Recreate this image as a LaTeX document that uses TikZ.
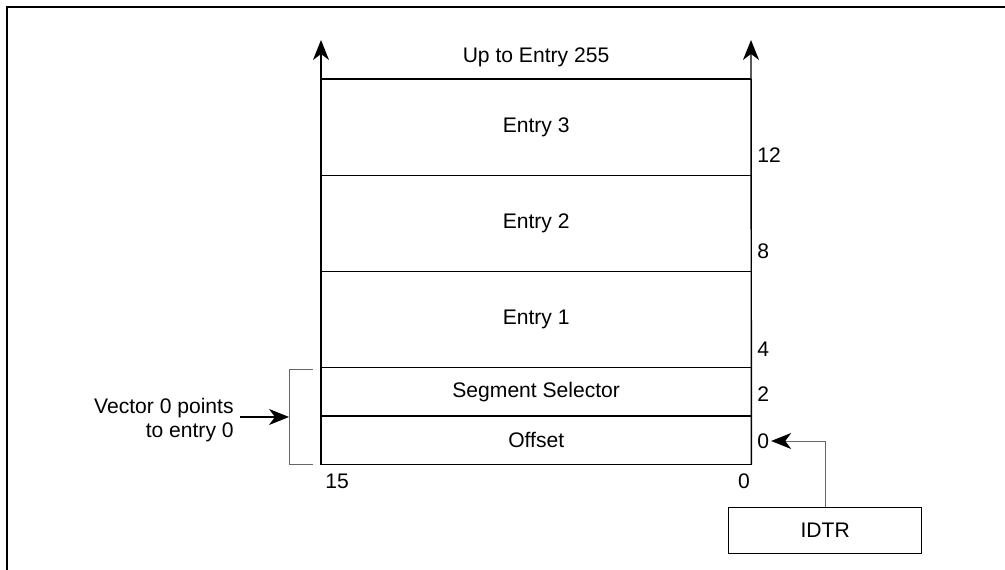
\documentclass[tikz,border=0pt]{standalone}
\usepackage{fontspec}
\setmainfont{Liberation Sans}
\usetikzlibrary{arrows.meta,positioning}
\tikzset{
  row/.style={draw,line width=0.3pt,minimum width=8.6cm,inner sep=0pt,font=\fontsize{12}{14}\selectfont},
  lbl/.style={inner sep=0pt,font=\fontsize{12}{14}\selectfont},
  tip/.style={-{Stealth[length=4mm,width=3.2mm,inset=1.2mm,black]}},
  thin gray/.style={draw=black!60,line width=0.4pt}
}

\begin{document}
\begin{tikzpicture}[x=0.02cm,y=-0.02cm]
\useasboundingbox (0,0) rectangle (1005,570);
\draw[line width=0.8pt] (7,7) rectangle (1012,578);

% the table of descriptors
\node[row,minimum height=0.96cm,anchor=north west] (off) at (321,416) {Offset};
\node[row,minimum height=0.96cm,anchor=south] (sel) at (off.north) {Segment Selector};
\node[row,minimum height=1.91cm,anchor=south] (e1) at (sel.north) {Entry 1};
\node[row,minimum height=1.91cm,anchor=south] (e2) at (e1.north) {Entry 2};
\node[row,minimum height=1.92cm,anchor=south] (e3) at (e2.north) {Entry 3};
\coordinate (ltop) at (321,40);
\coordinate (rtop) at (751,40);
\draw[line width=0.8pt,tip] (off.south west) -- (ltop);
\draw[line width=0.8pt,tip] (off.south east) -- (rtop);
\draw[line width=0.8pt] (off.south west) -- (off.south east);
\draw[line width=0.6pt] (e3.north west) -- (e3.north east);
\node[lbl] (more) at (536,57) {Up to Entry 255};

% byte offsets
\node[lbl,anchor=west] (o12) at (757,155) {12};
\node[lbl,anchor=west] (o8) at (757,251) {8};
\node[lbl,anchor=west] (o4) at (757,349) {4};
\node[lbl,anchor=west] (o2) at (757,394) {2};
\node[lbl,anchor=west] (o0) at (757,441) {0};
\node[lbl] (b15) at (337,481) {15};
\node[lbl] (b0) at (744,481) {0};

% vector 0
\coordinate (bt) at (313,369);
\coordinate (bb) at (313,464);
\coordinate (bl) at (289,369);
\coordinate (ba) at (289,417);
\draw[thin gray] (bt) -- (bl) -- (289,464) -- (bb);
\node[lbl,align=right,anchor=east] (vec) at (234,420) {Vector 0 points\\to entry 0};
\draw[line width=0.6pt,tip] (240,417) -- (ba);

% IDTR
\node[draw,line width=0.8pt,minimum width=3.86cm,minimum height=0.92cm,anchor=north west,lbl] (idtr) at (728,507) {IDTR};
\draw[thin gray,tip] (idtr.north) |- ([xshift=1pt]o0.east);
\end{tikzpicture}
\end{document}
